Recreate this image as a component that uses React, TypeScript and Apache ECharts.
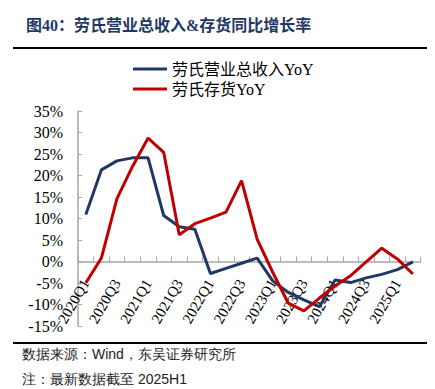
import React, { useEffect, useRef } from "react";
import * as echarts from "echarts";

const categories = [
  "2020Q1", "2020Q2", "2020Q3", "2020Q4",
  "2021Q1", "2021Q2", "2021Q3", "2021Q4",
  "2022Q1", "2022Q2", "2022Q3", "2022Q4",
  "2023Q1", "2023Q2", "2023Q3", "2023Q4",
  "2024Q1", "2024Q2", "2024Q3", "2024Q4",
  "2025Q1", "2025Q2",
];
const revenueYoY = [10.9, 21.3, 23.4, 24.1, 24.1, 10.7, 8.1, 7.5, -2.8, -1.6, -0.4, 0.8, -4.5, -7.2, -8.9, -10.5, -4.3, -4.9, -3.8, -3.0, -1.9, -0.1];
const inventoryYoY = [-5.0, 0.8, 14.6, 22.1, 28.7, 25.4, 6.2, 8.8, 10.1, 11.5, 18.8, 5.2, -2.5, -9.7, -11.5, -8.5, -5.7, -3.3, -0.1, 3.1, 0.6, -2.9];
const seriesNames = ["劳氏营业总收入YoY", "劳氏存货YoY"];
const titleText = "图40：劳氏营业总收入&存货同比增长率";
const sourceText = "数据来源：Wind，东吴证券研究所";
const noteText = "注：最新数据截至 2025H1";

const FONT = "'Liberation Serif', 'Times New Roman', 'Noto Sans CJK SC', serif";
const Y_MIN = -15;
const Y_MAX = 35;

export default function App() {
  const ref = useRef<HTMLDivElement>(null);
  useEffect(() => {
    if (!ref.current) return;
    const chart = echarts.init(ref.current, null, { renderer: "svg" });
    const gridTop = 111;
    const gridBottom = 63;
    const gridH = 389 - gridTop - gridBottom;
    const zeroOffset = -gridH * (0 - Y_MIN) / (Y_MAX - Y_MIN);
    chart.setOption({
      animation: false,
      backgroundColor: "#ffffff",
      textStyle: { fontFamily: FONT },
      title: {
        text: titleText,
        left: 21,
        top: 12,
        textStyle: { fontSize: 16, fontWeight: "bold", color: "#1F3864", fontFamily: FONT },
      },
      graphic: [
        { type: "line", shape: { x1: 13, y1: 48, x2: 427, y2: 48 }, style: { stroke: "#000", lineWidth: 2 } },
        { type: "line", shape: { x1: 13, y1: 343, x2: 427, y2: 343 }, style: { stroke: "#000", lineWidth: 2 } },
        { type: "text", left: 22, top: 347, style: { text: sourceText, fontSize: 14, fill: "#222", font: "14px " + FONT } },
        { type: "text", left: 22, top: 372, style: { text: noteText, fontSize: 14, fill: "#222", font: "14px " + FONT } },
      ],
      legend: {
        orient: "vertical",
        left: 128,
        top: 56,
        itemWidth: 34,
        itemHeight: 3,
        itemGap: 4,
        icon: "rect",
        textStyle: { fontSize: 16, color: "#000", fontFamily: FONT },
        data: seriesNames,
      },
      grid: { left: 78, right: 14.3, top: gridTop, bottom: gridBottom, containLabel: false, outerBoundsMode: "none" },
      xAxis: {
        type: "category",
        data: categories,
        boundaryGap: true,
        offset: zeroOffset,
        axisLine: { onZero: false, lineStyle: { color: "#a6a6a6", width: 1.5 } },
        axisTick: { show: true, inside: true, length: 5, interval: 0, lineStyle: { color: "#a6a6a6" } },
        axisLabel: { interval: 1, rotate: 60, margin: 19, fontSize: 15, color: "#000", fontFamily: FONT },
        splitLine: { show: false },
      },
      yAxis: {
        type: "value",
        min: Y_MIN,
        max: Y_MAX,
        interval: 5,
        axisLine: { show: true, lineStyle: { color: "#a6a6a6", width: 1.5 } },
        axisTick: { show: true, inside: true, length: 4, lineStyle: { color: "#a6a6a6" } },
        axisLabel: { formatter: "{value}%", margin: 15, fontSize: 16, color: "#000", fontFamily: FONT },
        splitLine: { show: false },
      },
      series: [
        {
          name: seriesNames[0],
          type: "line",
          data: revenueYoY,
          symbol: "none",
          lineStyle: { color: "#1F3864", width: 3 },
          itemStyle: { color: "#1F3864" },
        },
        {
          name: seriesNames[1],
          type: "line",
          data: inventoryYoY,
          symbol: "none",
          lineStyle: { color: "#C00000", width: 3 },
          itemStyle: { color: "#C00000" },
        },
      ],
    });
    return () => chart.dispose();
  }, []);
  return <div ref={ref} style={{ position: "fixed", left: 0, top: 0, width: 435, height: 389 }} />;
}
